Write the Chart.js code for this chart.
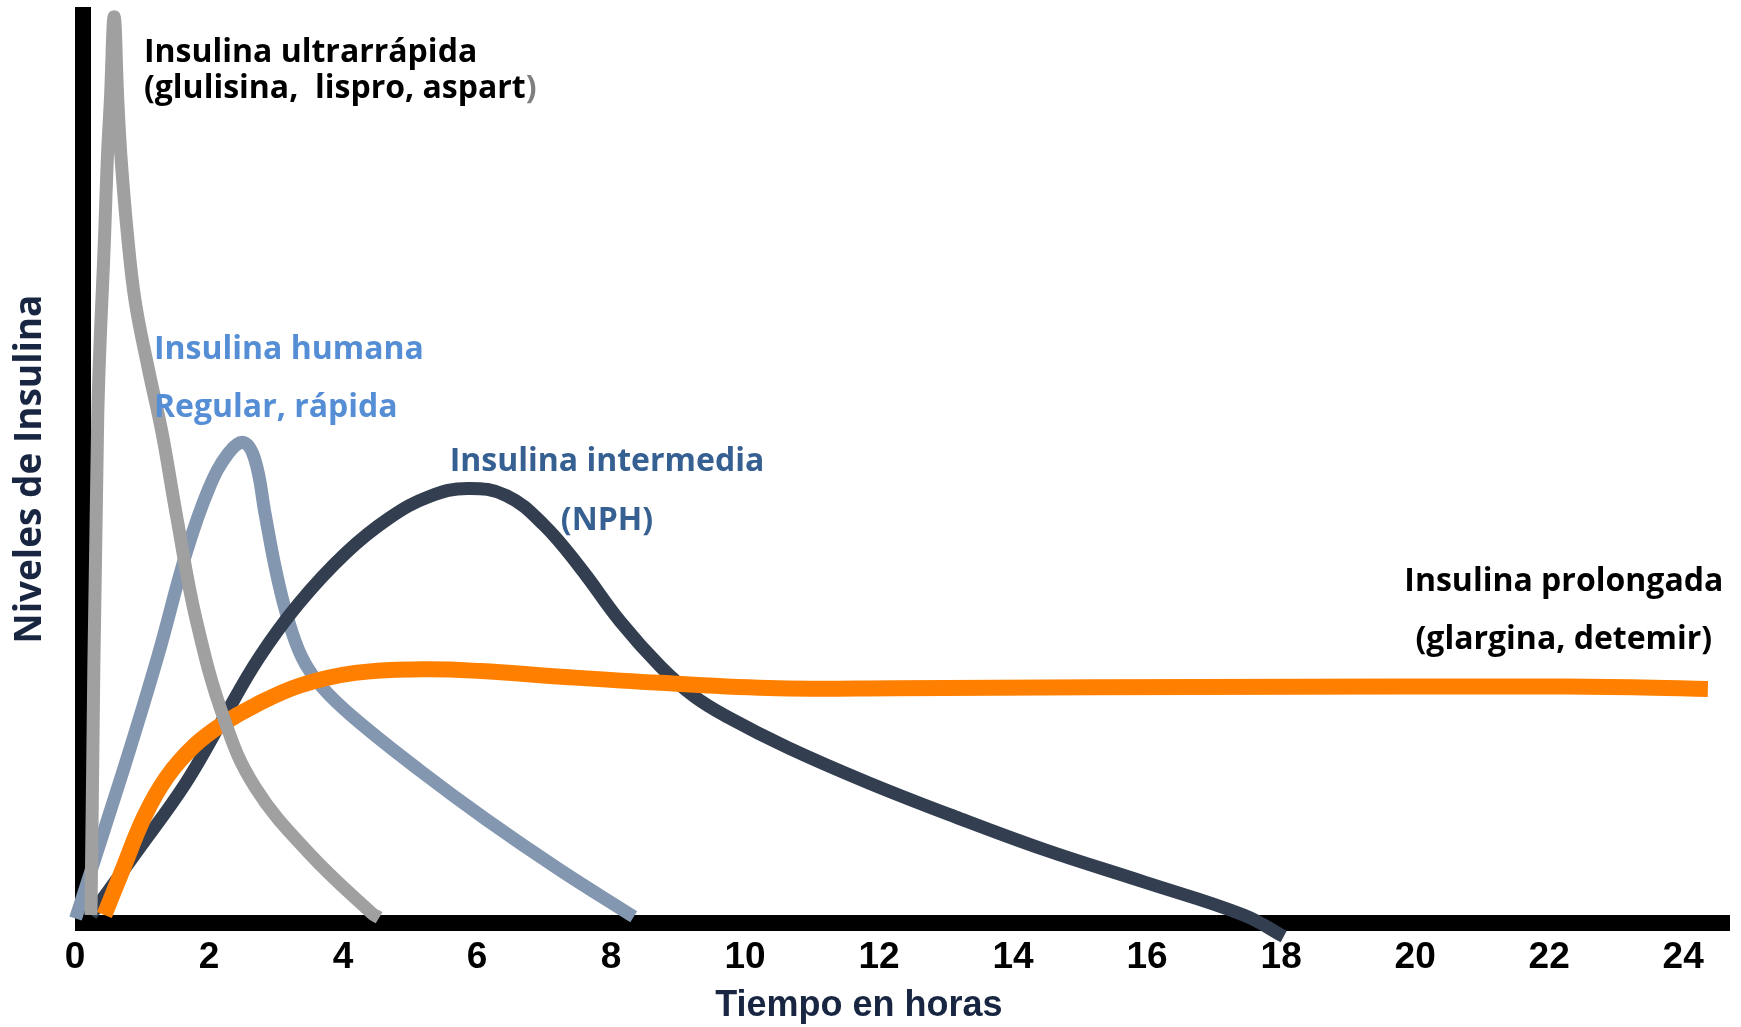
<!DOCTYPE html>
<html lang="es">
<head>
  <meta charset="UTF-8" />
  <meta name="viewport" content="width=device-width, initial-scale=1.0"/>
  <title>Perfiles de acción de la insulina</title>
  <script src="https://cdn.jsdelivr.net/npm/chart.js"></script>
  <style>
    body {
      margin: 0;
      padding: 0;
      background-color: #ffffff;
    }

    .chart-container {
      width: 1741px;
      height: 1027px;
      position: relative;
    }
  </style>
</head>
<body>
  <div class="chart-container">
    <canvas id="insulinaChart"></canvas>
  </div>

  <script>
    // tiempo en horas / nivel relativo (0-100)
    const ultraHours  = [0, 0.10, 0.205, 0.245, 0.29, 0.346, 0.40, 0.448, 0.542, 0.657, 0.85, 1.06, 1.28, 1.57, 1.99, 2.45, 3.25, 4.19, 4.3];
    const ultraLevels = [0, 55, 75.8, 84.2, 90.6, 99.8, 90.6, 84.2, 75.8, 68.3, 60.9, 53.6, 44.2, 32.8, 21.7, 14.2, 6.9, 0.2, -0.3];

    const regularHours  = [-0.23, 0.5, 1.0, 1.42, 1.76, 2.05, 2.28, 2.45, 2.6, 2.75, 2.92, 3.15, 3.45, 3.94, 4.9, 5.9, 7.0, 8.1];
    const regularLevels = [-0.4, 16.5, 28.8, 40.2, 47.4, 51.3, 52.5, 50.5, 44.5, 38.6, 33.4, 28.6, 25.3, 21.8, 16.1, 10.6, 5, -0.2];

    const nphHours  = [0, 0.7, 1.4, 1.95, 2.5, 3.1, 3.8, 4.45, 5.05, 5.62, 6.2, 6.75, 7.3, 7.9, 8.5, 9.0, 9.5, 10.4, 11.6, 12.9, 14.25, 15.7, 17.2, 17.8];
    const nphLevels = [0, 7.2, 14.5, 21.5, 28.5, 34.6, 40.2, 44.1, 46.5, 47.4, 46.6, 43.4, 38.6, 32.6, 27.6, 24.3, 22.0, 18.6, 14.7, 10.9, 7.2, 3.7, 0, -2.4];

    const glarginaHours  = [0.2, 0.46, 0.8, 1.13, 1.54, 1.96, 2.45, 3.12, 3.94, 4.94, 5.82, 6.96, 8.49, 10.25, 12, 15, 18, 21, 23, 24.13];
    const glarginaLevels = [0, 4.8, 11, 15.3, 18.8, 21.2, 23.3, 25.5, 26.9, 27.3, 27.1, 26.5, 25.8, 25.2, 25.2, 25.3, 25.35, 25.4, 25.3, 25.1];

    const hourTicks = [0, 2, 4, 6, 8, 10, 12, 14, 16, 18, 20, 22, 24];

    const navy = '#182642';
    const noteFont = '700 32px "Open Sans", sans-serif';

    const notes = [
      { text: 'Insulina ultrarrápida', hour: 0.79, level: 95.8, color: '#000000', align: 'left' },
      { text: '(glulisina,  lispro, aspart', tail: ')', tailColor: '#7f7f7f', hour: 0.79, level: 91.8, color: '#000000', align: 'left' },
      { text: 'Insulina humana', hour: 0.94, level: 62.8, color: '#558ed5', align: 'left' },
      { text: 'Regular, rápida', hour: 0.94, level: 56.3, color: '#558ed5', align: 'left' },
      { text: 'Insulina intermedia', hour: 7.70, level: 50.4, color: '#376092', align: 'center' },
      { text: '(NPH)', hour: 7.70, level: 43.8, color: '#376092', align: 'center' },
      { text: 'Insulina prolongada', hour: 21.98, level: 37, color: '#000000', align: 'center' },
      { text: '(glargina, detemir)', hour: 21.98, level: 30.6, color: '#000000', align: 'center' },
      { text: 'Tiempo en horas', hour: 11.46, level: -10.1, color: navy, align: 'center', font: 'bold 36px "Liberation Sans", Arial, sans-serif' }
    ];

    const toPoints = (hours, levels) => hours.map((h, i) => ({ x: h, y: levels[i] }));

    const curve = (label, hours, levels, color, width) => ({
      label: label,
      data: toPoints(hours, levels),
      borderColor: color,
      backgroundColor: color,
      borderWidth: width,
      pointRadius: 0,
      tension: 0.4,
      borderJoinStyle: 'round',
      clip: false
    });

    // textos sobre el grafico
    const notesPlugin = {
      id: 'notes',
      afterDraw(chart) {
        const { ctx, scales: { x, y } } = chart;
        ctx.save();
        ctx.textBaseline = 'middle';
        notes.forEach((n) => {
          const px = x.getPixelForValue(n.hour);
          const py = y.getPixelForValue(n.level);
          ctx.font = n.font || noteFont;
          ctx.fillStyle = n.color;
          ctx.textAlign = n.align;
          ctx.fillText(n.text, px, py);
          if (n.tail) {
            const w = ctx.measureText(n.text).width;
            ctx.fillStyle = n.tailColor;
            ctx.textAlign = 'left';
            ctx.fillText(n.tail, px + w, py);
          }
        });
        ctx.restore();
      }
    };

    const ctx = document.getElementById('insulinaChart').getContext('2d');
    const chart = new Chart(ctx, {
      type: 'line',
      data: {
        datasets: [
          curve('Insulina ultrarrápida', ultraHours, ultraLevels, '#a0a0a0', 13),
          curve('Insulina prolongada', glarginaHours, glarginaLevels, '#ff8000', 16),
          curve('Insulina intermedia (NPH)', nphHours, nphLevels, '#333f50', 13),
          curve('Insulina humana regular', regularHours, regularLevels, '#8497b0', 13)
        ]
      },
      options: {
        responsive: true,
        maintainAspectRatio: false,
        animation: false,
        layout: {
          padding: { top: 15, right: 11, left: 0, bottom: 0 }
        },
        plugins: {
          legend: { display: false },
          tooltip: { enabled: false }
        },
        scales: {
          x: {
            type: 'linear',
            min: -0.119,
            max: 24.46,
            bounds: 'data',
            z: 1,
            afterFit: (scale) => { scale.height = 104; },
            afterBuildTicks: (scale) => { scale.ticks = hourTicks.map(v => ({ value: v })); },
            grid: { display: false, drawTicks: false, lineWidth: 0 },
            border: { display: true, color: '#000000', width: 16 },
            ticks: {
              color: '#000000',
              padding: 13,
              labelOffset: -16,
              maxRotation: 0,
              autoSkip: false,
              font: { family: '"Liberation Sans Narrow", "Liberation Sans", Arial, sans-serif', size: 37, weight: 'bold' }
            }
          },
          y: {
            min: -0.89,
            max: 100,
            z: 1,
            afterFit: (scale) => { scale.width = 83; },
            grid: { display: false, drawTicks: false, lineWidth: 16 },
            border: { display: true, color: '#000000', width: 16 },
            ticks: { display: false },
            title: {
              display: true,
              text: 'Niveles de Insulina',
              color: navy,
              padding: { top: 8, bottom: 0 },
              font: { family: '"Open Sans", sans-serif', size: 37, weight: 'bold' }
            }
          }
        }
      },
      plugins: [notesPlugin]
    });
  </script>
</body>
</html>
